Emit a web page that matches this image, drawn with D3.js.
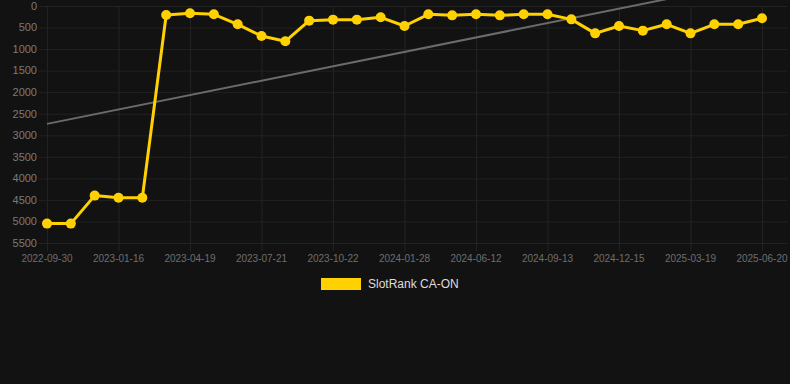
<!DOCTYPE html>
<html>
<head>
<meta charset="utf-8">
<script src="https://cdn.jsdelivr.net/npm/d3@7"></script>
<style>
  html, body { margin: 0; padding: 0; background: #121212; }
  svg { display: block; font-family: "Liberation Sans", Arial, sans-serif; }
</style>
</head>
<body>
<div id="chart"></div>
<script>
// rank values, one per period (lower is better, axis is reversed)
const rankValues = [5050, 5050, 4400, 4450, 4450, 210, 170, 193, 425, 696, 820, 340, 317, 317, 263,
  464, 193, 217, 193, 217, 193, 193, 310, 635, 464, 572, 425, 635, 425, 425, 286];
// labels shown every third period
const tickLabels = ["2022-09-30", "2023-01-16", "2023-04-19", "2023-07-21", "2023-10-22", "2024-01-28",
  "2024-06-12", "2024-09-13", "2024-12-15", "2025-03-19", "2025-06-20"];
const yTicks = [0, 500, 1000, 1500, 2000, 2500, 3000, 3500, 4000, 4500, 5000, 5500];
const seriesName = "SlotRank CA-ON";

const width = 790;
const height = 384;
const margin = { top: 6, right: 28, bottom: 141, left: 47 };
const innerW = width - margin.left - margin.right;
const innerH = height - margin.top - margin.bottom;
const yellow = "#ffd100";

const svg = d3.select("#chart")
  .append("svg")
  .attr("width", width)
  .attr("height", height);

const g = svg.append("g")
  .attr("transform", `translate(${margin.left},${margin.top})`);

const idx = d3.range(rankValues.length);

// X scale (one slot per period)
const x = d3.scaleLinear()
  .domain([0, rankValues.length - 1])
  .range([0, innerW]);

// Y scale, reversed so 0 sits on top
const y = d3.scaleLinear()
  .domain([0, 5500])
  .range([0, innerH]);

// grid
g.append("g")
  .selectAll("line")
  .data(yTicks)
  .enter()
  .append("line")
  .attr("x1", -8)
  .attr("x2", innerW + 25)
  .attr("y1", d => y(d) + 0.5)
  .attr("y2", d => y(d) + 0.5)
  .attr("stroke", "#222");

const tickIdx = idx.filter(i => i % 3 === 0);

g.append("g")
  .selectAll("line")
  .data(tickIdx)
  .enter()
  .append("line")
  .attr("x1", d => x(d) + 0.5)
  .attr("x2", d => x(d) + 0.5)
  .attr("y1", 0)
  .attr("y2", innerH + 8)
  .attr("stroke", "#222");

// Y axis labels
g.append("g")
  .selectAll("text")
  .data(yTicks)
  .enter()
  .append("text")
  .attr("x", -10)
  .attr("y", d => y(d))
  .attr("dy", "0.35em")
  .attr("text-anchor", "end")
  .attr("fill", "#7a7a7a")
  .attr("font-size", 11)
  .text(d => d);

// X axis labels
g.append("g")
  .selectAll("text")
  .data(tickIdx)
  .enter()
  .append("text")
  .attr("x", d => x(d))
  .attr("y", innerH + 19)
  .attr("text-anchor", "middle")
  .attr("fill", "#6e6e6e")
  .attr("font-size", 10)
  .text((d, i) => tickLabels[i]);

// trend line (least squares fit of the ranks)
const mx = d3.mean(idx);
const my = d3.mean(rankValues);
const slope = d3.sum(idx, i => (i - mx) * (rankValues[i] - my)) / d3.sum(idx, i => (i - mx) ** 2);
const intercept = my - slope * mx;
const last = rankValues.length - 1;

g.append("line")
  .attr("x1", x(0))
  .attr("y1", y(intercept))
  .attr("x2", x(last))
  .attr("y2", y(intercept + slope * last))
  .attr("stroke", "#6b6b6b")
  .attr("stroke-width", 2);

// rank line
const line = d3.line()
  .x(i => x(i))
  .y(i => y(rankValues[i]));

g.append("path")
  .datum(idx)
  .attr("d", line)
  .attr("fill", "none")
  .attr("stroke", yellow)
  .attr("stroke-width", 3)
  .attr("stroke-linejoin", "round");

g.selectAll(".dot")
  .data(idx)
  .enter()
  .append("circle")
  .attr("class", "dot")
  .attr("cx", i => x(i))
  .attr("cy", i => y(rankValues[i]))
  .attr("r", 5)
  .attr("fill", yellow);

// legend
const legend = svg.append("g")
  .attr("transform", "translate(321,278)");

legend.append("rect")
  .attr("width", 40)
  .attr("height", 12)
  .attr("fill", yellow);

legend.append("text")
  .attr("x", 47)
  .attr("y", 6)
  .attr("dy", "0.35em")
  .attr("fill", "#dddddd")
  .attr("font-size", 12)
  .text(seriesName);
</script>
</body>
</html>
